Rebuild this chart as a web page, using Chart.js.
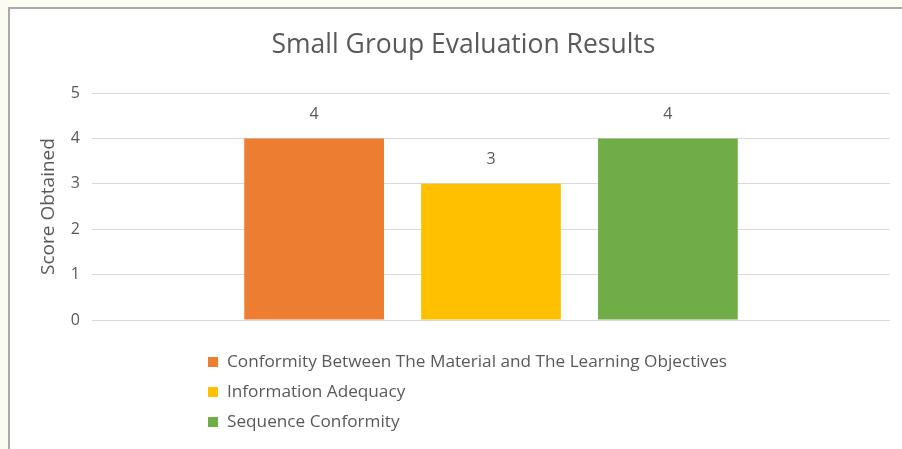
<!DOCTYPE html>
<html>
<head>
<meta charset="utf-8">
<script src="https://cdn.jsdelivr.net/npm/chart.js@4"></script>
<style>
  html, body { margin: 0; padding: 0; background: #fbfbf3; width: 902px; height: 449px; overflow: hidden; }
  #frame { position: absolute; left: 8px; top: 7px; width: 920px; height: 460px; background: #fff;
           border-left: 2px solid #aaaaa4; border-top: 2px solid #aaaaa4; box-sizing: border-box; overflow: hidden; }
  #wrap { position: absolute; left: 0; top: 0; width: 892px; height: 440px; }
  #legend { position: absolute; left: 198px; top: 337px; font-family: "Open Sans", sans-serif; font-size: 17.2px; color: #595959; }
  .item { height: 30px; line-height: 30px; white-space: nowrap; }
  .box { display: inline-block; width: 10px; height: 10px; margin-right: 9px; vertical-align: 0px; }
</style>
</head>
<body>
<div id="frame">
  <div id="wrap"><canvas id="c"></canvas></div>
  <div id="legend"></div>
</div>
<script>
const chartTitle = "Small Group Evaluation Results";
const yAxisTitle = "Score Obtained";
const categories = [""];
const seriesNames = [
  "Conformity Between The Material and The Learning Objectives",
  "Information Adequacy",
  "Sequence Conformity"
];
const seriesValues = [[4], [3], [4]];
const seriesColors = ["#ED7D31", "#FFC000", "#70AD47"];
const yTicks = [0, 1, 2, 3, 4, 5];

const textColor = "#595959";
const fontFamily = "'Open Sans', sans-serif";

const valueLabels = {
  id: "valueLabels",
  afterDatasetsDraw(chart) {
    const ctx = chart.ctx;
    ctx.save();
    ctx.fillStyle = textColor;
    ctx.font = "16px " + fontFamily;
    ctx.textAlign = "center";
    ctx.textBaseline = "middle";
    chart.data.datasets.forEach((ds, i) => {
      const meta = chart.getDatasetMeta(i);
      meta.data.forEach((el, j) => {
        ctx.fillText(String(ds.data[j]), el.x, el.y - 24);
      });
    });
    ctx.restore();
  }
};

new Chart(document.getElementById("c"), {
  type: "bar",
  data: {
    labels: categories,
    datasets: seriesNames.map((name, i) => ({
      label: name,
      data: seriesValues[i],
      backgroundColor: seriesColors[i],
      borderWidth: 0,
      categoryPercentage: 0.665,
      barPercentage: 0.79
    }))
  },
  options: {
    responsive: true,
    maintainAspectRatio: false,
    animation: false,
    layout: { padding: { left: 27, right: 12, top: 9, bottom: 129 } },
    plugins: {
      legend: { display: false },
      tooltip: { enabled: false },
      title: {
        display: true,
        text: chartTitle,
        color: textColor,
        font: { family: fontFamily, size: 26.5, weight: "normal" },
        padding: { top: 12, bottom: 31.2 }
      }
    },
    scales: {
      x: { display: false },
      y: {
        min: 0, max: 5,
        afterBuildTicks(scale) { scale.ticks = yTicks.map(v => ({ value: v })); },
        afterFit(scale) { scale.width = 55; },
        border: { display: false },
        grid: { color: "#d9d9d9", lineWidth: 1, drawTicks: false },
        ticks: { color: textColor, font: { family: fontFamily, size: 16 }, padding: 12 },
        title: {
          display: true, text: yAxisTitle, color: textColor,
          font: { family: fontFamily, size: 19 }, padding: { top: 0, bottom: 0 }
        }
      }
    }
  },
  plugins: [valueLabels]
});

const legend = document.getElementById("legend");
seriesNames.forEach((name, i) => {
  const row = document.createElement("div");
  row.className = "item";
  const box = document.createElement("span");
  box.className = "box";
  box.style.background = seriesColors[i];
  row.appendChild(box);
  row.appendChild(document.createTextNode(name));
  legend.appendChild(row);
});
</script>
</body>
</html>
